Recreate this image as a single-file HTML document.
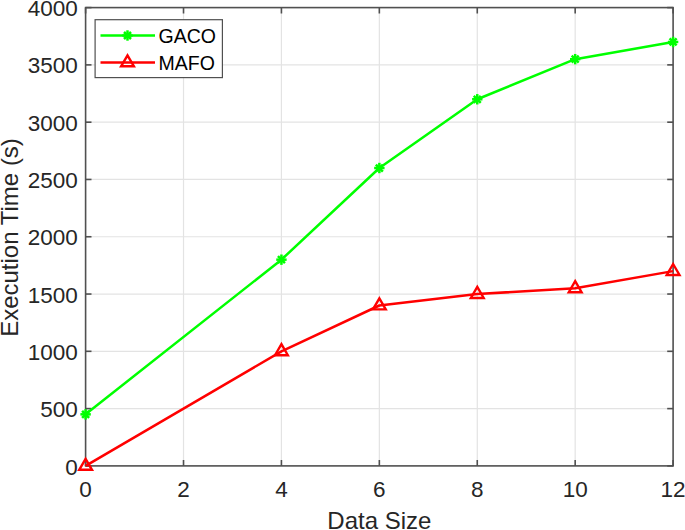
<!DOCTYPE html>
<html><head><meta charset="utf-8"><style>
html,body{margin:0;padding:0;background:#fff;width:685px;height:530px;overflow:hidden}
svg{display:block}
text{font-family:"Liberation Sans",sans-serif;fill:#262626}
.t{font-size:22.5px}
.l{font-size:24px}
.k{font-size:19.5px;fill:#000}
.g{stroke:#e3e3e3;stroke-width:1.2}
.a{stroke:#505050;stroke-width:1.6}
.lg{stroke:#505050;stroke-width:1.2}
</style></head><body>
<svg width="685" height="530" viewBox="0 0 685 530">
<defs>
<g id="ast" stroke="#00ff00" stroke-width="2.5">
<line x1="-5.2" y1="0" x2="5.2" y2="0"/><line x1="0" y1="-5.2" x2="0" y2="5.2"/>
<line x1="-3.5" y1="-3.5" x2="3.5" y2="3.5"/><line x1="-3.5" y1="3.5" x2="3.5" y2="-3.5"/>
</g>
<path id="tri" d="M0,-7.1 L6.4,3.9 L-6.4,3.9 Z" fill="none" stroke="#ff0000" stroke-width="2.4"/>
</defs>
<line x1="183.52" y1="7.60" x2="183.52" y2="465.90" class="g"/>
<line x1="281.43" y1="7.60" x2="281.43" y2="465.90" class="g"/>
<line x1="379.35" y1="7.60" x2="379.35" y2="465.90" class="g"/>
<line x1="477.27" y1="7.60" x2="477.27" y2="465.90" class="g"/>
<line x1="575.18" y1="7.60" x2="575.18" y2="465.90" class="g"/>
<line x1="85.60" y1="408.61" x2="673.10" y2="408.61" class="g"/>
<line x1="85.60" y1="351.32" x2="673.10" y2="351.32" class="g"/>
<line x1="85.60" y1="294.04" x2="673.10" y2="294.04" class="g"/>
<line x1="85.60" y1="236.75" x2="673.10" y2="236.75" class="g"/>
<line x1="85.60" y1="179.46" x2="673.10" y2="179.46" class="g"/>
<line x1="85.60" y1="122.18" x2="673.10" y2="122.18" class="g"/>
<line x1="85.60" y1="64.89" x2="673.10" y2="64.89" class="g"/>
<line x1="85.60" y1="465.90" x2="85.60" y2="460.00" class="a"/>
<line x1="85.60" y1="7.60" x2="85.60" y2="13.50" class="a"/>
<line x1="183.52" y1="465.90" x2="183.52" y2="460.00" class="a"/>
<line x1="183.52" y1="7.60" x2="183.52" y2="13.50" class="a"/>
<line x1="281.43" y1="465.90" x2="281.43" y2="460.00" class="a"/>
<line x1="281.43" y1="7.60" x2="281.43" y2="13.50" class="a"/>
<line x1="379.35" y1="465.90" x2="379.35" y2="460.00" class="a"/>
<line x1="379.35" y1="7.60" x2="379.35" y2="13.50" class="a"/>
<line x1="477.27" y1="465.90" x2="477.27" y2="460.00" class="a"/>
<line x1="477.27" y1="7.60" x2="477.27" y2="13.50" class="a"/>
<line x1="575.18" y1="465.90" x2="575.18" y2="460.00" class="a"/>
<line x1="575.18" y1="7.60" x2="575.18" y2="13.50" class="a"/>
<line x1="673.10" y1="465.90" x2="673.10" y2="460.00" class="a"/>
<line x1="673.10" y1="7.60" x2="673.10" y2="13.50" class="a"/>
<line x1="85.60" y1="465.90" x2="91.50" y2="465.90" class="a"/>
<line x1="673.10" y1="465.90" x2="667.20" y2="465.90" class="a"/>
<line x1="85.60" y1="408.61" x2="91.50" y2="408.61" class="a"/>
<line x1="673.10" y1="408.61" x2="667.20" y2="408.61" class="a"/>
<line x1="85.60" y1="351.32" x2="91.50" y2="351.32" class="a"/>
<line x1="673.10" y1="351.32" x2="667.20" y2="351.32" class="a"/>
<line x1="85.60" y1="294.04" x2="91.50" y2="294.04" class="a"/>
<line x1="673.10" y1="294.04" x2="667.20" y2="294.04" class="a"/>
<line x1="85.60" y1="236.75" x2="91.50" y2="236.75" class="a"/>
<line x1="673.10" y1="236.75" x2="667.20" y2="236.75" class="a"/>
<line x1="85.60" y1="179.46" x2="91.50" y2="179.46" class="a"/>
<line x1="673.10" y1="179.46" x2="667.20" y2="179.46" class="a"/>
<line x1="85.60" y1="122.18" x2="91.50" y2="122.18" class="a"/>
<line x1="673.10" y1="122.18" x2="667.20" y2="122.18" class="a"/>
<line x1="85.60" y1="64.89" x2="91.50" y2="64.89" class="a"/>
<line x1="673.10" y1="64.89" x2="667.20" y2="64.89" class="a"/>
<line x1="85.60" y1="7.60" x2="91.50" y2="7.60" class="a"/>
<line x1="673.10" y1="7.60" x2="667.20" y2="7.60" class="a"/>
<rect x="85.60" y="7.60" width="587.50" height="458.30" class="a" fill="none"/>
<text transform="translate(85.60,497.00) scale(1,1.0)" text-anchor="middle" class="t">0</text>
<text transform="translate(183.52,497.00) scale(1,1.0)" text-anchor="middle" class="t">2</text>
<text transform="translate(281.43,497.00) scale(1,1.0)" text-anchor="middle" class="t">4</text>
<text transform="translate(379.35,497.00) scale(1,1.0)" text-anchor="middle" class="t">6</text>
<text transform="translate(477.27,497.00) scale(1,1.0)" text-anchor="middle" class="t">8</text>
<text transform="translate(575.18,497.00) scale(1,1.0)" text-anchor="middle" class="t">10</text>
<text transform="translate(673.10,497.00) scale(1,1.0)" text-anchor="middle" class="t">12</text>
<text transform="translate(77.70,474.50) scale(1,1.0)" text-anchor="end" class="t">0</text>
<text transform="translate(77.70,417.21) scale(1,1.0)" text-anchor="end" class="t">500</text>
<text transform="translate(77.70,359.93) scale(1,1.0)" text-anchor="end" class="t">1000</text>
<text transform="translate(77.70,302.64) scale(1,1.0)" text-anchor="end" class="t">1500</text>
<text transform="translate(77.70,245.35) scale(1,1.0)" text-anchor="end" class="t">2000</text>
<text transform="translate(77.70,188.06) scale(1,1.0)" text-anchor="end" class="t">2500</text>
<text transform="translate(77.70,130.78) scale(1,1.0)" text-anchor="end" class="t">3000</text>
<text transform="translate(77.70,73.49) scale(1,1.0)" text-anchor="end" class="t">3500</text>
<text transform="translate(77.70,16.20) scale(1,1.0)" text-anchor="end" class="t">4000</text>
<text x="379.40" y="528.50" text-anchor="middle" class="l">Data Size</text>
<text transform="translate(17.80,237.50) rotate(-90)" text-anchor="middle" class="l">Execution Time (s)</text>
<polyline points="85.60,414.34 281.43,259.67 379.35,168.01 477.27,99.26 575.18,59.16 673.10,41.97" fill="none" stroke="#00ff00" stroke-width="2.5" stroke-linejoin="round"/>
<polyline points="85.60,465.90 281.43,351.32 379.35,305.50 477.27,294.04 575.18,288.31 673.10,271.12" fill="none" stroke="#ff0000" stroke-width="2.5" stroke-linejoin="round"/>
<use href="#ast" x="85.60" y="414.34"/>
<use href="#ast" x="281.43" y="259.67"/>
<use href="#ast" x="379.35" y="168.01"/>
<use href="#ast" x="477.27" y="99.26"/>
<use href="#ast" x="575.18" y="59.16"/>
<use href="#ast" x="673.10" y="41.97"/>
<use href="#tri" x="85.60" y="465.90"/>
<use href="#tri" x="281.43" y="351.32"/>
<use href="#tri" x="379.35" y="305.50"/>
<use href="#tri" x="477.27" y="294.04"/>
<use href="#tri" x="575.18" y="288.31"/>
<use href="#tri" x="673.10" y="271.12"/>
<rect x="95.1" y="19.7" width="127.30" height="57.90" fill="#fff" class="lg"/>
<line x1="100.5" y1="35.5" x2="155" y2="35.5" stroke="#00ff00" stroke-width="2.5"/>
<line x1="100.5" y1="62.4" x2="155" y2="62.4" stroke="#ff0000" stroke-width="2.5"/>
<use href="#ast" x="127.5" y="35.5"/>
<use href="#tri" x="127.5" y="62.4"/>
<text x="158.6" y="42.5" class="k">GACO</text>
<text x="158.6" y="69.8" class="k">MAFO</text>
</svg>
</body></html>
